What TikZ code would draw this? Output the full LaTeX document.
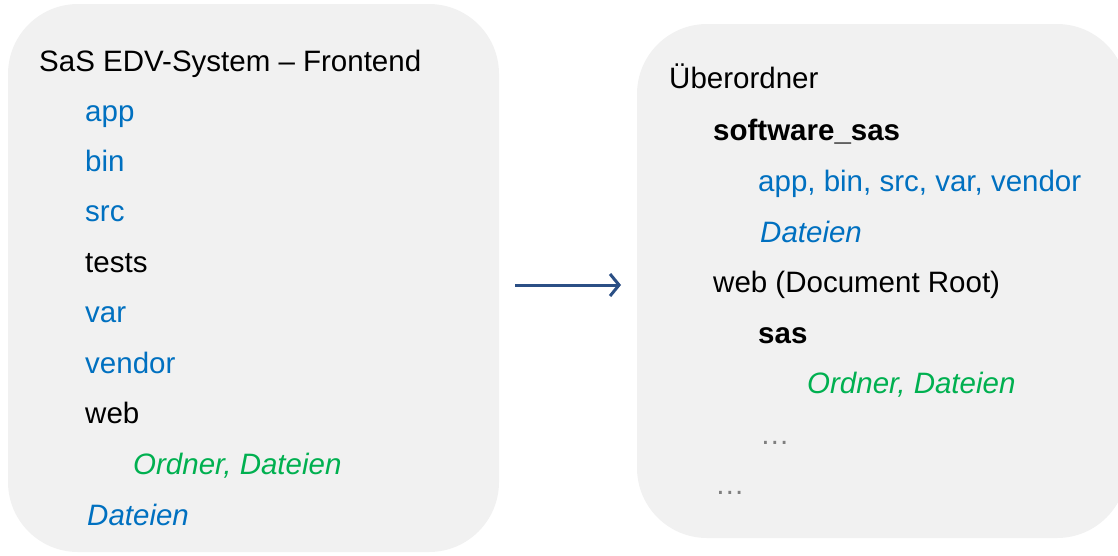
\documentclass[tikz,border=0pt]{standalone}
\usepackage{fontspec}
\setmainfont{Liberation Sans}
\usetikzlibrary{arrows.meta}
\definecolor{boxgray}{HTML}{F1F1F1}
\definecolor{dirblue}{HTML}{0070C0}
\definecolor{filegreen}{HTML}{00B050}
\definecolor{arrowblue}{HTML}{2B4F85}
\definecolor{dotgray}{HTML}{7F7F7F}
\tikzset{
  panel/.style={draw=none, fill=boxgray, rounded corners=70pt, inner sep=0pt},
  txt/.style={anchor=base west, inner sep=0pt, font=\fontsize{29.5}{35}\selectfont},
  dir/.style={txt, text=dirblue},
  file/.style={txt, text=dirblue, font=\fontsize{29.5}{35}\selectfont\itshape},
  sub/.style={txt, text=filegreen, font=\fontsize{29.5}{35}\selectfont\itshape},
  bold/.style={txt, font=\fontsize{29.5}{35}\selectfont\bfseries},
  dots/.style={txt, text=dotgray},
  flow/.style={draw=arrowblue, line width=3pt, -{Straight Barb[length=9pt,width=22pt]}}
}
\begin{document}
\begin{tikzpicture}[x=1pt,y=-1pt]
\useasboundingbox (0,0) rectangle (1118,555);
% panels
\node[panel, minimum width=491pt, minimum height=548pt] (L) at (253.5,278) {};
\node[panel, minimum width=490pt, minimum height=514pt] (R) at (882,281) {};
% left tree
\node[txt] (l0) at (39,71.5) {SaS EDV-System – Frontend};
\node[dir] (l1) at (85,121) {app};
\node[dir] (l2) at (85,171) {bin};
\node[dir] (l3) at (85,221) {src};
\node[txt] (l4) at (85,272) {tests};
\node[dir] (l5) at (85,322) {var};
\node[dir] (l6) at (85,373) {vendor};
\node[txt] (l7) at (85,423) {web};
\node[sub] (l8) at (133,474) {Ordner, Dateien};
\node[file] (l9) at (87,525) {Dateien};
% right tree
\node[txt] (r0) at (669,88.5) {Überordner};
\node[bold] (r1) at (713,140) {software\_sas};
\node[dir] (r2) at (758,191) {app, bin, src, var, vendor};
\node[file] (r3) at (760,242) {Dateien};
\node[txt] (r4) at (713,292) {web (Document Root)};
\node[bold] (r5) at (758,343) {sas};
\node[sub] (r6) at (807,393) {Ordner, Dateien};
\node[dots] (r7) at (760,444) {…};
\node[dots] (r8) at (715,494) {…};
% arrow
\coordinate (as) at (515,285);
\coordinate (ae) at (621,285);
\draw[flow] (as) -- (ae);
\end{tikzpicture}
\end{document}
